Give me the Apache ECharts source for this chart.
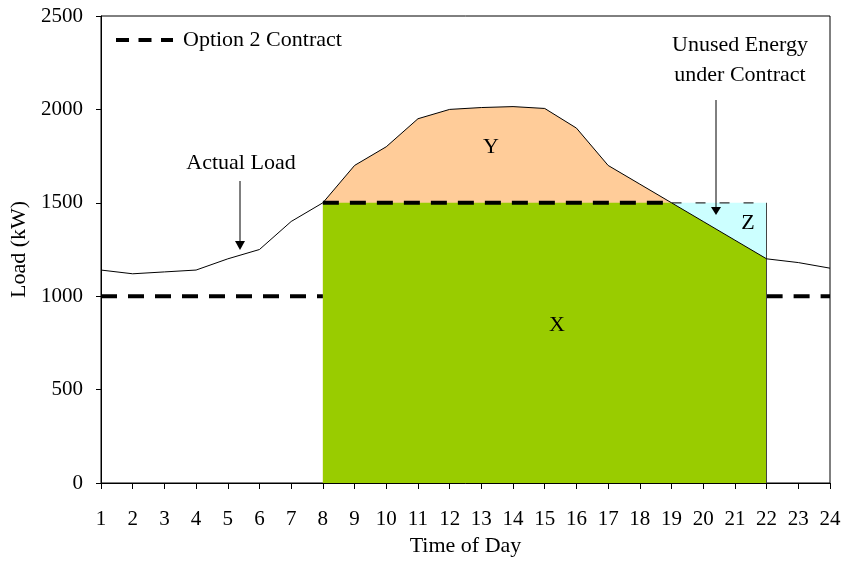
<!DOCTYPE html>
<html>
<head>
<meta charset="UTF-8">
<title>Option 2 Contract</title>
<script src="https://cdn.jsdelivr.net/npm/echarts@6/dist/echarts.min.js"></script>
<style>
  html, body { margin: 0; padding: 0; background: #fff; }
</style>
</head>
<body>
<div id="main" style="width:845px;height:563px"></div>
<script type="text/javascript">
// hours of the day and the metered load (kW)
var hours = ['1','2','3','4','5','6','7','8','9','10','11','12','13','14','15','16','17','18','19','20','21','22','23','24'];
var actualLoad = [1140, 1120, 1130, 1140, 1200, 1250, 1400, 1500, 1700, 1800, 1950, 2000, 2010, 2015, 2005, 1900, 1700, 1600, 1500, 1400, 1300, 1200, 1180, 1150];
// option 2 contract: 1000 kW off peak, 1500 kW from 8 to 22
var contractLow  = [1000, 1000, 1000, 1000, 1000, 1000, 1000, 1000, '-', '-', '-', '-', '-', '-', '-', '-', '-', '-', '-', '-', '-', 1000, 1000, 1000];
var contractHigh = ['-', '-', '-', '-', '-', '-', '-', 1500, 1500, 1500, 1500, 1500, 1500, 1500, 1500, 1500, 1500, 1500, 1500, 1500, 1500, 1500, '-', '-'];

var FONT = '"Liberation Serif", "Times New Roman", serif';

// X : energy inside the contract
var areaX = hours.map(function (h, i) {
    return contractHigh[i] === '-' ? '-' : Math.min(actualLoad[i], contractHigh[i]);
});
// Y : load above the contract
var areaY = hours.map(function (h, i) {
    return contractHigh[i] !== '-' && actualLoad[i] >= contractHigh[i] ? actualLoad[i] : '-';
});
// Z : contract not used
var areaZ = hours.map(function (h, i) {
    if (contractHigh[i] === '-') return '-';
    var under = actualLoad[i] < contractHigh[i] ||
        (contractHigh[i + 1] !== undefined && contractHigh[i + 1] !== '-' && actualLoad[i + 1] < contractHigh[i + 1]);
    return under ? contractHigh[i] : '-';
});
// thick contract line where the load is over it
var contractHighThick = hours.map(function (h, i) {
    return contractHigh[i] !== '-' && actualLoad[i] >= contractHigh[i] ? contractHigh[i] : '-';
});

var myChart = echarts.init(document.getElementById('main'));

var option = {
    animation: false,
    backgroundColor: '#fff',
    textStyle: { fontFamily: FONT },
    grid: {
        left: 101, right: 15, top: 16, bottom: 80,
        show: true, borderColor: '#000', borderWidth: 1
    },
    legend: {
        data: [{
            name: 'Option 2 Contract',
            lineStyle: { type: [13, 9.5], width: 4, color: '#000' },
            itemStyle: { opacity: 0, color: 'rgba(0,0,0,0)', borderWidth: 0 }
        }],
        left: 109, top: 24,
        itemWidth: 57, itemHeight: 14,
        selectedMode: false,
        textStyle: { fontFamily: FONT, fontSize: 22, color: '#000', padding: [0, 0, 0, 5] }
    },
    xAxis: {
        type: 'category',
        data: hours,
        boundaryGap: false,
        name: 'Time of Day',
        nameLocation: 'middle',
        nameGap: 52,
        nameTextStyle: { fontFamily: FONT, fontSize: 22, color: '#000' },
        axisLine: { lineStyle: { color: '#000', width: 1 } },
        axisTick: { length: 6, lineStyle: { color: '#000' } },
        axisLabel: { interval: 0, margin: 26, fontFamily: FONT, fontSize: 21, color: '#000' },
        splitLine: { show: false }
    },
    yAxis: {
        type: 'value',
        min: 0, max: 2500, interval: 500,
        name: 'Load (kW)',
        nameLocation: 'middle',
        nameGap: 60,
        nameTextStyle: { fontFamily: FONT, fontSize: 22, color: '#000' },
        axisLine: { show: true, lineStyle: { color: '#000', width: 1 } },
        axisTick: { show: true, length: 5, lineStyle: { color: '#000' } },
        axisLabel: {
            margin: 18, fontFamily: FONT, fontSize: 21, color: '#000',
            formatter: function (v) { return String(v); }
        },
        splitLine: { show: false }
    },
    series: [
        {
            name: 'Z', type: 'line', data: areaZ, symbol: 'none', z: 2,
            lineStyle: { color: '#333', width: 1.2, type: [10, 14] },
            areaStyle: { color: '#CCFFFF', opacity: 1 }
        },
        {
            name: 'Y', type: 'line', data: areaY, symbol: 'none', z: 2,
            lineStyle: { width: 0 },
            areaStyle: { color: '#FFCC99', opacity: 1 }
        },
        {
            name: 'X', type: 'line', data: areaX, symbol: 'none', z: 3,
            lineStyle: { width: 0 },
            areaStyle: { color: '#99CC00', opacity: 1 },
            markLine: {
                silent: true, symbol: 'none', label: { show: false },
                lineStyle: { color: '#444', width: 1, type: 'solid' },
                data: [[{ coord: ['22', 0] }, { coord: ['22', 1500] }]]
            }
        },
        {
            name: 'Option 2 Contract', type: 'line', data: contractHighThick, symbol: 'none', z: 4,
            itemStyle: { color: '#000' },
            lineStyle: { color: '#000', width: 4, type: [16, 11], cap: 'butt' }
        },
        {
            name: 'Option 2 Contract', type: 'line', data: contractLow, symbol: 'none', z: 4,
            itemStyle: { color: '#000' },
            lineStyle: { color: '#000', width: 4, type: [16, 11], cap: 'butt' }
        },
        {
            name: 'Actual Load', type: 'line', data: actualLoad, symbol: 'none', z: 5,
            lineStyle: { color: '#000', width: 1 }
        }
    ],
    graphic: [
        { type: 'text', z: 10, style: { text: 'Actual Load', x: 241, y: 163, textAlign: 'center', textVerticalAlign: 'middle', font: '22px ' + FONT, fill: '#000' } },
        { type: 'line', z: 10, shape: { x1: 240, y1: 181, x2: 240, y2: 243 }, style: { stroke: '#000', lineWidth: 1 } },
        { type: 'polygon', z: 10, shape: { points: [[235, 241], [245, 241], [240, 250]] }, style: { fill: '#000' } },
        { type: 'text', z: 10, style: { text: 'Unused Energy\nunder Contract', x: 740, y: 60, textAlign: 'center', textVerticalAlign: 'middle', font: '22px ' + FONT, lineHeight: 30, fill: '#000' } },
        { type: 'line', z: 10, shape: { x1: 716, y1: 100, x2: 716, y2: 209 }, style: { stroke: '#000', lineWidth: 1 } },
        { type: 'polygon', z: 10, shape: { points: [[711, 207], [721, 207], [716, 215]] }, style: { fill: '#000' } },
        { type: 'text', z: 10, style: { text: 'Y', x: 491, y: 147, textAlign: 'center', textVerticalAlign: 'middle', font: '22px ' + FONT, fill: '#000' } },
        { type: 'text', z: 10, style: { text: 'X', x: 557, y: 325, textAlign: 'center', textVerticalAlign: 'middle', font: '22px ' + FONT, fill: '#000' } },
        { type: 'text', z: 10, style: { text: 'Z', x: 748, y: 223, textAlign: 'center', textVerticalAlign: 'middle', font: '22px ' + FONT, fill: '#000' } }
    ]
};

myChart.setOption(option);
</script>
</body>
</html>
